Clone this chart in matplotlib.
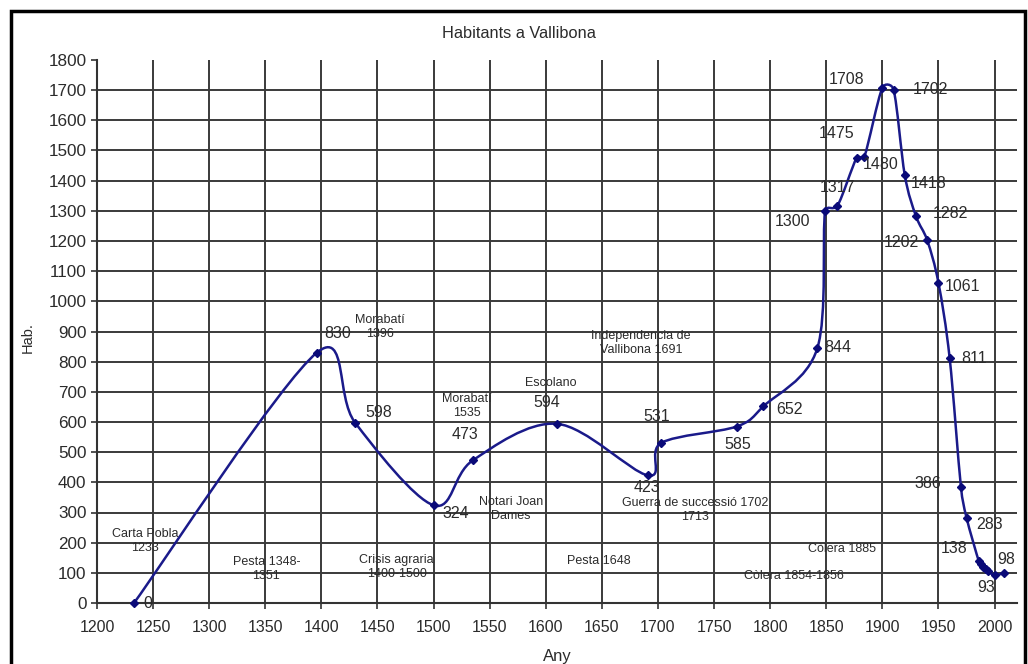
import numpy as np
import matplotlib
matplotlib.use('Agg')
import matplotlib.pyplot as plt
from matplotlib.path import Path
from matplotlib.patches import PathPatch, Rectangle

plt.rcParams['font.family'] = ['Liberation Sans', 'DejaVu Sans']

# population of Vallibona (year, inhabitants)
years = [1233, 1396, 1430, 1500, 1535, 1610, 1691, 1703, 1770, 1794, 1842, 1849,
         1860, 1877, 1884, 1900, 1910, 1920, 1930, 1940, 1950, 1960, 1970, 1975,
         1986, 1988, 1990, 1992, 1994, 2000, 2008]
habitants = [0, 830, 598, 324, 473, 594, 423, 531, 585, 652, 844, 1300,
             1317, 1475, 1480, 1708, 1702, 1418, 1282, 1202, 1061, 811, 386, 283,
             138, 128, 120, 112, 105, 93, 98]

# which points carry a value label
labelled = [0, 830, 598, 324, 473, 594, 423, 531, 585, 652, 844, 1300,
            1317, 1475, 1480, 1708, 1702, 1418, 1282, 1202, 1061, 811, 386, 283,
            138, None, None, None, None, 93, 98]

events = ['Carta Pobla\n1233', 'Pesta 1348-\n1351', 'Crisis agraria\n1400-1500',
          'Morabatí\n1396', 'Morabatí\n1535', 'Notari Joan\nDames', 'Escolano',
          'Independencia de\nVallibona 1691', 'Guerra de successió 1702\n1713',
          'Pesta 1648', 'Còlera 1885', 'Còlera 1854-1856']

# layout: where the value labels and event notes sit
label_offsets = [(14, 0), (21, 19), (24, 10), (22, -8), (-8, 26), (-10, 21),
                 (-1, -12), (-5, 26), (1, -18), (26, -3), (20, 1), (-33, -11),
                 (0, 18), (-20, 25), (16, -8), (-36, 8), (37, 0), (24, -8),
                 (34, 3), (-26, -2), (24, -4), (24, 0), (-33, 3), (23, -7),
                 (-25, 13), None, None, None, None, (-8, -13), (3, 14)]
event_pos = [(1243, 205), (1351, 113), (1467, 119), (1452, 915), (1530, 653),
             (1569, 312), (1604, 729), (1685, 862), (1733, 308), (1647, 139),
             (1864, 179), (1821, 89)]

navy = '#1a1a8a'
txt = '#2b2b2b'

fig = plt.figure(figsize=(10.28, 6.64), dpi=100)
ax = fig.add_axes([97 / 1028, 1 - 603 / 664, 920 / 1028, 543 / 664])

ax.set_xlim(1200, 2020)
ax.set_ylim(0, 1800)
ax.set_xticks(np.arange(1200, 2001, 50))
ax.set_yticks(np.arange(0, 1801, 100))
ax.tick_params(direction='out', length=4, width=1.2, colors='#333333',
               labelsize=11.5, labelcolor=txt)
ax.tick_params(axis='y', labelsize=12.3)
ax.tick_params(axis='x', pad=8)
ax.grid(True, color='#3a3a3a', linewidth=1.4)
ax.yaxis.get_gridlines()[-1].set_visible(False)
ax.set_axisbelow(True)
for s in ['top', 'right']:
    ax.spines[s].set_visible(False)
for s in ['left', 'bottom']:
    ax.spines[s].set_color('#333333')
    ax.spines[s].set_linewidth(1.5)

# smoothed line like a spreadsheet chart: bezier through the points,
# worked out in screen space with the handles kept short
sc = np.array([920 / 820, 543 / 1800])
pts = np.column_stack([years, habitants]).astype(float) * sc
n = len(pts)


def handle(v, seg):
    lim = 0.5 * np.hypot(*seg)
    ln = np.hypot(*v)
    return v * (lim / ln) if ln > lim else v


verts = [pts[0]]
codes = [Path.MOVETO]
for i in range(n - 1):
    p0 = pts[max(i - 1, 0)]
    p1 = pts[i]
    p2 = pts[i + 1]
    p3 = pts[min(i + 2, n - 1)]
    seg = p2 - p1
    verts += [p1 + handle((p2 - p0) / 6, seg), p2 - handle((p3 - p1) / 6, seg), p2]
    codes += [Path.CURVE4] * 3
verts = np.array(verts) / sc
ax.add_patch(PathPatch(Path(verts, codes), facecolor='none', edgecolor=navy,
                       linewidth=1.8, zorder=3, clip_on=False))
ax.plot(years, habitants, linestyle='none', marker='D', markersize=4.5,
        color='#0a0a78', zorder=4, clip_on=False)

for x, y, lab, off in zip(years, habitants, labelled, label_offsets):
    if lab is None:
        continue
    ax.annotate(str(lab), (x, y), xytext=off, textcoords='offset pixels',
                ha='center', va='center', fontsize=11.5, color=txt, zorder=5)

for t, (x, y) in zip(events, event_pos):
    ax.text(x, y, t, ha='center', va='center', fontsize=9, color=txt,
            linespacing=1.25, zorder=5)

fig.text(519 / 1028, 1 - 33 / 664, 'Habitants a Vallibona', ha='center',
         va='center', fontsize=11.8, color=txt)
fig.text(28 / 1028, 1 - 338 / 664, 'Hab.', rotation=90, ha='center',
         va='center', fontsize=10.5, color=txt)
fig.text(557 / 1028, 1 - 656 / 664, 'Any', ha='center', va='center',
         fontsize=12, color=txt)

# outer frame of the chart
fig.patches.append(Rectangle((11 / 1028, -0.05), 1014 / 1028, 1.05 - 11 / 664,
                             transform=fig.transFigure, fill=False,
                             edgecolor='black', linewidth=2.5))

fig.savefig('out.png', dpi=100)
